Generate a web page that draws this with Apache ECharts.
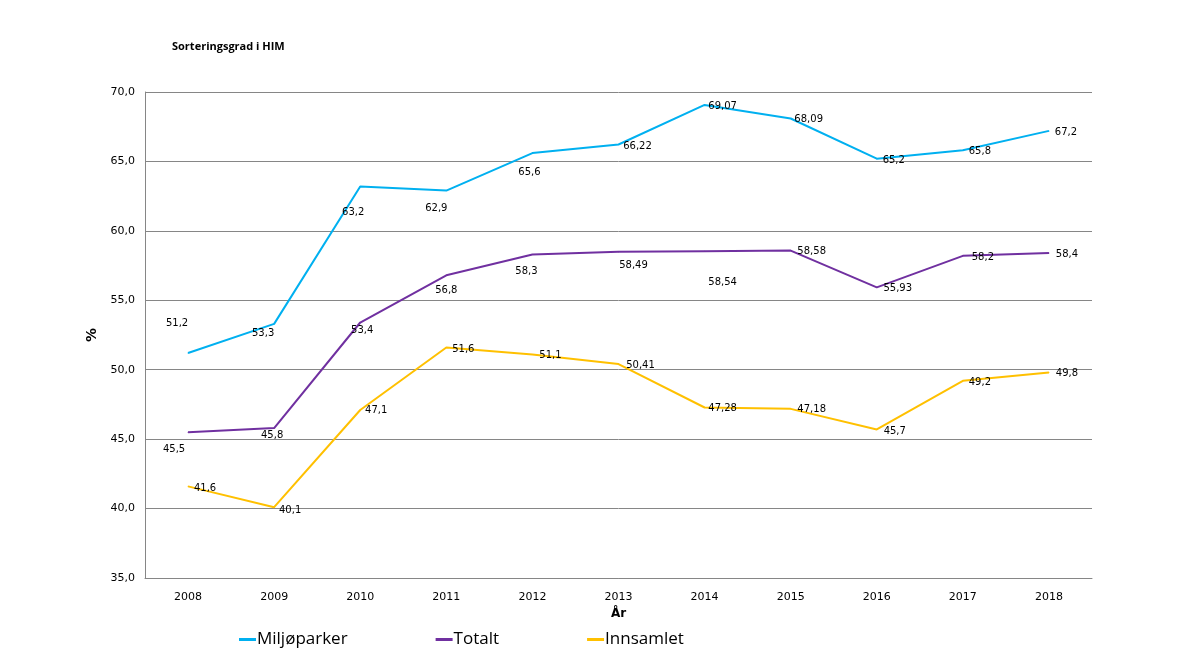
<!DOCTYPE html>
<html>
<head>
<meta charset="utf-8">
<script src="https://cdn.jsdelivr.net/npm/echarts@6/dist/echarts.min.js"></script>
<style>
html,body{margin:0;padding:0;background:#fff;}
#chart{width:1183px;height:663px;}
</style>
</head>
<body>
<div id="chart"></div>
<script>
const years = ['2008','2009','2010','2011','2012','2013','2014','2015','2016','2017','2018'];
const miljoparker = [51.2, 53.3, 63.2, 62.9, 65.6, 66.22, 69.07, 68.09, 65.2, 65.8, 67.2];
const totalt = [45.5, 45.8, 53.4, 56.8, 58.3, 58.49, 58.54, 58.58, 55.93, 58.2, 58.4];
const innsamlet = [41.6, 40.1, 47.1, 51.6, 51.1, 50.41, 47.28, 47.18, 45.7, 49.2, 49.8];

// label offsets (pixels from point) — styling only
const offMiljo = [[-11,-30],[-11,10],[-7,26],[-10,18],[-3,19],[19,2],[18,1],[18,1],[17,2],[17,1],[17,2]];
const offTotalt = [[-14,17],[-2,7],[2,8],[0,15],[-6,17],[15,14],[18,31],[21,1],[21,1],[20,2],[18,1]];
const offInns = [[17,2],[16,3],[16,0],[17,2],[18,1],[22,1],[18,1],[21,1],[18,2],[17,2],[18,1]];

function fmt(v){ return String(v).replace('.', ','); }

function buildData(vals, offs){
  return vals.map((v,i)=>({
    value: v,
    label: {show:true, position:'inside', offset: offs[i], formatter: fmt(v)}
  }));
}

function series(name, color, vals, offs){
  return {
    name, type:'line', data: buildData(vals, offs),
    symbol:'circle', symbolSize:1, showSymbol:true,
    itemStyle:{color:color},
    lineStyle:{color:color, width:2},
    label: {show:true, color:'#000', fontSize:10, fontFamily:'DejaVu Sans'},
    emphasis:{disabled:true},
    animation:false
  };
}

const chart = echarts.init(document.getElementById('chart'));
chart.setOption({
  backgroundColor:'#fff',
  animation:false,
  title:{
    text:'Sorteringsgrad i HIM', left:167, top:36,
    textStyle:{fontSize:11, fontWeight:'bold', color:'#000', fontFamily:'Open Sans'}
  },
  color:['#00B0F0','#7030A0','#FFC000'],
  legend:{
    left:234, top:626, itemGap:88, itemWidth:17, itemHeight:3, icon:'rect',
    textStyle:{fontSize:17, color:'#000', fontFamily:'Open Sans', padding:[0,0,0,-4]},
    data:[
      {name:'Miljøparker', itemStyle:{color:'#00B0F0'}},
      {name:'Totalt', itemStyle:{color:'#7030A0'}},
      {name:'Innsamlet', itemStyle:{color:'#FFC000'}}
    ]
  },
  grid:{left:145, right:91, top:92, bottom:85, containLabel:false},
  xAxis:{
    type:'category', data: years, boundaryGap:true,
    name:'År', nameLocation:'middle', nameGap:20,
    nameTextStyle:{fontSize:12, fontWeight:'bold', color:'#000', fontFamily:'DejaVu Sans'},
    axisLine:{lineStyle:{color:'#868686', width:1}},
    axisTick:{show:false},
    axisLabel:{color:'#000', fontSize:11, fontFamily:'DejaVu Sans', margin:14}
  },
  yAxis:{
    type:'value', min:35, max:70, interval:5,
    name:'%', nameLocation:'middle', nameGap:42, nameRotate:90,
    nameTextStyle:{fontSize:14, fontWeight:'bold', color:'#000', fontFamily:'DejaVu Sans'},
    axisLine:{show:true, lineStyle:{color:'#868686', width:1}},
    axisTick:{show:false},
    splitLine:{lineStyle:{color:'#868686', width:1}},
    axisLabel:{color:'#000', fontSize:11, fontFamily:'DejaVu Sans', margin:10,
      formatter: v => v.toFixed(1).replace('.', ',')}
  },
  series:[
    series('Miljøparker','#00B0F0', miljoparker, offMiljo),
    series('Totalt','#7030A0', totalt, offTotalt),
    series('Innsamlet','#FFC000', innsamlet, offInns)
  ]
});
</script>
</body>
</html>
